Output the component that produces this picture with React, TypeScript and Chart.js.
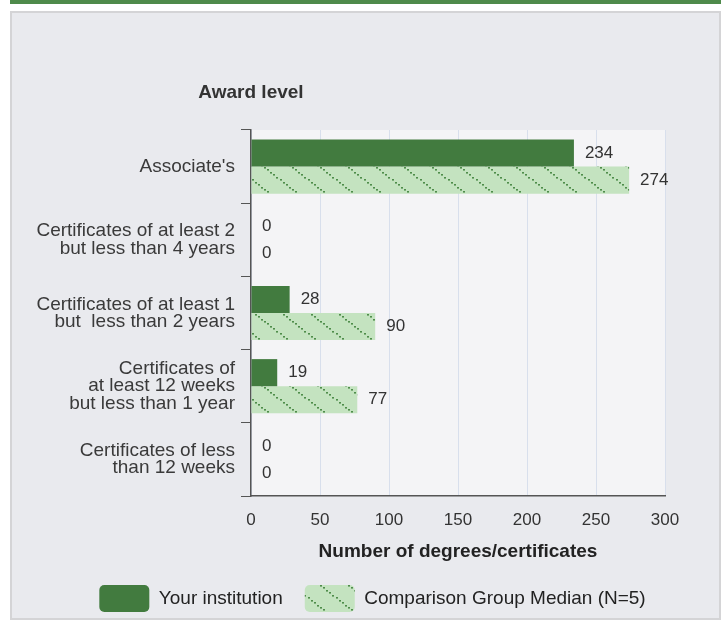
import React, { useEffect, useRef } from "react";
import { Chart, registerables } from "chart.js";

Chart.register(...registerables);

const categories: (string | string[])[] = [
  "Associate's",
  ["Certificates of at least 2", "but less than 4 years"],
  ["Certificates of at least 1", "but  less than 2 years"],
  ["Certificates of", "at least 12 weeks", "but less than 1 year"],
  ["Certificates of less", "than 12 weeks"],
];
const yourInstitution = [234, 0, 28, 19, 0];
const comparisonMedian = [274, 0, 90, 77, 0];
const seriesNames = ["Your institution", "Comparison Group Median (N=5)"];
const yAxisTitle = "Award level";
const xAxisTitle = "Number of degrees/certificates";

const FONT = "'Liberation Sans', Arial, Helvetica, sans-serif";
const DARK = "#427b3f";
const LIGHT = "#c4e3c0";

function makePattern(): CanvasPattern | string {
  const c = document.createElement("canvas");
  const w = 28;
  const h = 22;
  c.width = w;
  c.height = h;
  const ctx = c.getContext("2d");
  if (!ctx) return LIGHT;
  ctx.fillStyle = LIGHT;
  ctx.fillRect(0, 0, w, h);
  ctx.fillStyle = "#4f8d4b";
  const steps = 9;
  for (let i = 0; i < steps; i++) {
    const t = i / steps;
    ctx.fillRect(Math.round(t * w), Math.round(t * h), 2, 1.6);
  }
  const pat = ctx.createPattern(c, "repeat");
  return pat || LIGHT;
}

export default function App() {
  const ref = useRef<HTMLCanvasElement | null>(null);

  useEffect(() => {
    document.body.style.margin = "0";
    const canvas = ref.current;
    if (!canvas) return;
    const pattern = makePattern();

    const bgPlugin = {
      id: "plotBg",
      beforeDraw(chart: any) {
        const { ctx, chartArea } = chart;
        ctx.save();
        ctx.fillStyle = "#f4f4f6";
        ctx.fillRect(chartArea.left, chartArea.top, chartArea.right - chartArea.left, chartArea.bottom - chartArea.top);
        ctx.restore();
      },
    };

    const labelsPlugin = {
      id: "valueLabels",
      afterDatasetsDraw(chart: any) {
        const { ctx, chartArea } = chart;
        ctx.save();
        ctx.font = `17px ${FONT}`;
        ctx.fillStyle = "#333";
        ctx.textAlign = "left";
        ctx.textBaseline = "middle";
        chart.data.datasets.forEach((ds: any, di: number) => {
          const meta = chart.getDatasetMeta(di);
          meta.data.forEach((bar: any, i: number) => {
            ctx.fillText(String(ds.data[i]), bar.x + 11, bar.y);
          });
        });
        // y axis title, centred over the y axis line
        ctx.font = `bold 19px ${FONT}`;
        ctx.fillStyle = "#333";
        ctx.textAlign = "center";
        ctx.fillText(yAxisTitle, chartArea.left, chartArea.top - 37);
        ctx.restore();
      },
    };

    const chart = new Chart(canvas, {
      type: "bar",
      data: {
        labels: categories as any,
        datasets: [
          {
            label: seriesNames[0],
            data: yourInstitution,
            backgroundColor: DARK,
            borderWidth: 0,
            categoryPercentage: 0.74,
            barPercentage: 1,
          },
          {
            label: seriesNames[1],
            data: comparisonMedian,
            backgroundColor: pattern as any,
            borderWidth: 0,
            categoryPercentage: 0.74,
            barPercentage: 1,
          },
        ],
      },
      options: {
        indexAxis: "y",
        animation: false,
        responsive: false,
        maintainAspectRatio: false,
        layout: { padding: { left: 14, right: 0, top: 117, bottom: 16 } },
        scales: {
          x: {
            min: 0,
            max: 300,
            afterFit(scale: any) {
              scale.height = 67;
            },
            ticks: {
              stepSize: 50,
              color: "#333",
              font: { size: 17, family: FONT },
              padding: 14,
            },
            grid: {
              color: "#d8dfec",
              drawTicks: false,
            },
            border: { color: "#555", width: 1.5 },
            title: {
              display: true,
              text: xAxisTitle,
              color: "#222",
              font: { size: 19, weight: "bold", family: FONT },
              padding: { top: 0, bottom: 0 },
            },
          },
          y: {
            afterFit(scale: any) {
              scale.width = 225;
            },
            ticks: {
              color: "#3a3a3a",
              font: { size: 19, family: FONT, lineHeight: 0.9 },
              padding: 6,
            },
            grid: {
              offset: true,
              drawOnChartArea: false,
              tickLength: 10,
              color: "#555",
            },
            border: { color: "#555", width: 1.5 },
          },
          rightGap: {
            type: "linear",
            position: "right",
            display: true,
            afterFit(scale: any) {
              scale.width = 54;
            },
            ticks: { display: false },
            grid: { display: false, drawTicks: false },
            border: { display: false },
          },
        },
        plugins: {
          legend: {
            position: "bottom",
            labels: {
              boxWidth: 50,
              boxHeight: 27,
              useBorderRadius: true,
              borderRadius: 5,
              color: "#222",
              font: { size: 19, family: FONT },
              padding: 22,
            },
          },
          tooltip: { enabled: false },
        },
      },
      plugins: [bgPlugin, labelsPlugin],
    } as any);

    return () => chart.destroy();
  }, []);

  return (
    <div style={{ position: "relative", width: 726, height: 622, background: "#fff", overflow: "hidden" }}>
      <div style={{ position: "absolute", left: 10, top: 0, width: 711, height: 4, background: "#4e8a4b" }} />
      <div
        style={{
          position: "absolute",
          left: 10,
          top: 11,
          width: 711,
          height: 609,
          boxSizing: "border-box",
          border: "2px solid #d4d4d6",
          background: "#e9eaee",
        }}
      />
      <canvas
        ref={ref}
        width={707}
        height={625}
        style={{ position: "absolute", left: 12, top: 13, width: 707, height: 625 }}
      />
    </div>
  );
}
